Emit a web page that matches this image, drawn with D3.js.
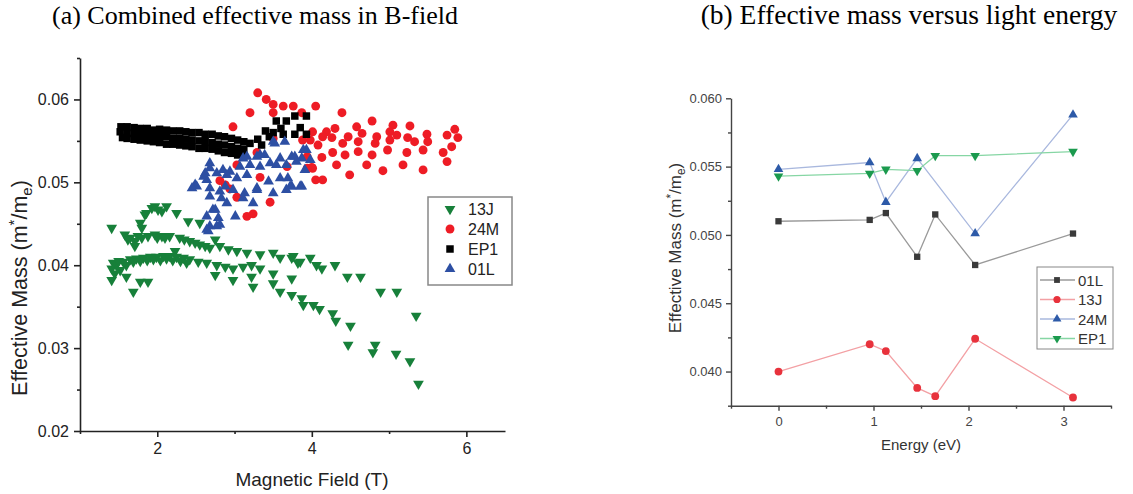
<!DOCTYPE html>
<html>
<head>
<meta charset="utf-8">
<script src="https://cdn.jsdelivr.net/npm/d3@7"></script>
<style>
  body { margin: 0; background: #fff; }
  text { font-family: 'Liberation Sans', Arial, sans-serif; }
</style>
</head>
<body>
<script>
// ---- (a) scatter data: [field (T), effective mass]
const field13J = [
  [1.41,0.0445],[1.58,0.0437],[1.71,0.0423],[1.78,0.0451],[1.84,0.0461],[1.93,0.0469],[2.01,0.0467],[2.12,0.0471],
  [2.25,0.0463],[2.40,0.0453],[2.55,0.0451],[2.75,0.0431],[1.80,0.0445],[1.86,0.0463],[1.97,0.0471],[2.06,0.0465],
  [1.75,0.0435],[1.65,0.0433],
  [1.80,0.0433],[1.88,0.0435],[1.97,0.0437],[2.06,0.0435],[2.16,0.0435],[2.29,0.0433],[2.42,0.0429],[2.55,0.0425],
  [2.68,0.0421],[2.81,0.0423],[2.92,0.0419],[3.03,0.0417],[3.16,0.0415],[3.33,0.0413],[3.50,0.0415],[3.59,0.0409],
  [3.74,0.0409],[3.85,0.0404],[3.98,0.0409],[4.06,0.0400],[1.71,0.0429],[2.23,0.0417],[1.62,0.0431],[2.00,0.0433],
  [2.10,0.0433],[2.35,0.0431],[2.49,0.0427],[2.62,0.0423],[3.82,0.0403],[3.76,0.0411],[4.13,0.0396],[4.30,0.0400],
  [4.46,0.0386],[4.63,0.0386],[4.89,0.0368],[5.10,0.0368],[5.35,0.0339],
  [1.41,0.0396],[1.47,0.0400],[1.56,0.0404],[1.65,0.0407],[1.73,0.0408],[1.82,0.0409],[1.91,0.0410],[1.99,0.0410],
  [2.08,0.0411],[2.16,0.0411],[2.25,0.0410],[2.34,0.0409],[2.42,0.0407],[2.53,0.0404],[2.64,0.0403],[2.77,0.0400],
  [2.88,0.0398],[2.98,0.0396],[3.11,0.0398],[3.22,0.0400],[1.43,0.0403],[1.52,0.0394],[1.45,0.0390],[1.50,0.0405],
  [1.60,0.0400],[1.69,0.0404],[1.78,0.0405],[1.87,0.0406],[1.95,0.0407],[2.04,0.0406],[2.12,0.0408],[2.20,0.0406],
  [2.30,0.0405],[2.38,0.0403],
  [1.41,0.0382],[1.60,0.0386],[1.69,0.0368],[1.78,0.0380],[1.88,0.0380],[2.75,0.0388],[2.98,0.0382],[3.24,0.0374],
  [3.22,0.0386],[3.50,0.0378],[3.59,0.0368],[3.74,0.0384],[3.74,0.0364],[3.87,0.0360],[3.89,0.0352],[4.02,0.0352],
  [4.10,0.0347],[4.27,0.0342],[4.31,0.0333],[4.50,0.0327],[4.47,0.0304],[4.82,0.0304],[4.79,0.0295],[5.09,0.0293],
  [5.27,0.0284],[5.38,0.0257],[3.50,0.0390],[3.33,0.0396]
];

const field24M = [
  [3.30,0.0608],[3.41,0.0600],[3.50,0.0594],[3.63,0.0592],[3.76,0.0592],[4.05,0.0592],[3.20,0.0584],[3.50,0.0584],
  [3.87,0.0584],[4.39,0.0584],[4.78,0.0574],[5.05,0.0569],[5.27,0.0568],[5.85,0.0564],
  [2.98,0.0567],[4.01,0.0561],[4.19,0.0561],[4.30,0.0565],[4.14,0.0555],[4.26,0.0554],[4.47,0.0555],[4.58,0.0567],
  [4.65,0.0559],[4.84,0.0555],[5.01,0.0561],[5.10,0.0557],[5.24,0.0554],[5.49,0.0558],[5.75,0.0557],[5.89,0.0554],
  [4.08,0.0545],[4.40,0.0547],[4.60,0.0549],[4.82,0.0547],[5.01,0.0551],[5.33,0.0549],[5.50,0.0549],[5.81,0.0543],
  [3.94,0.0531],[4.13,0.0530],[4.27,0.0536],[4.43,0.0533],[4.60,0.0537],[4.78,0.0533],[4.98,0.0539],[5.23,0.0536],
  [5.44,0.0539],[5.70,0.0536],
  [4.00,0.0518],[4.32,0.0521],[4.71,0.0521],[4.92,0.0514],[5.18,0.0521],[5.44,0.0515],[5.75,0.0525],[4.49,0.0509],
  [4.14,0.0503],[3.98,0.0551],[4.01,0.0517],[4.05,0.0503],[3.88,0.0551],[3.94,0.0517],[3.68,0.0519],[3.50,0.0553],
  [2.81,0.0502],[2.94,0.0492],[3.33,0.0506],[3.03,0.0521],[3.46,0.0476],[3.16,0.0459],[3.24,0.0462],[3.03,0.0482],
  [2.88,0.0497],[3.29,0.0536]
];

const fieldEP1 = [
  [1.53,0.0567],[1.61,0.0567],[1.70,0.0566],[1.78,0.0565],[1.87,0.0565],[1.95,0.0563],[2.03,0.0564],[2.12,0.0563],
  [2.20,0.0562],[2.29,0.0562],[2.37,0.0561],[2.45,0.0560],[2.54,0.0560],[2.62,0.0558],[2.71,0.0558],[2.79,0.0556],
  [2.87,0.0555],[2.96,0.0553],[3.04,0.0551],[3.12,0.0549],
  [1.52,0.0561],[1.61,0.0559],[1.70,0.0559],[1.78,0.0557],[1.87,0.0557],[1.95,0.0556],[2.03,0.0555],[2.12,0.0555],
  [2.20,0.0553],[2.29,0.0553],[2.37,0.0552],[2.45,0.0551],[2.54,0.0550],[2.62,0.0549],[2.71,0.0548],[2.79,0.0546],
  [2.87,0.0545],[2.96,0.0543],[3.04,0.0541],[3.12,0.0540],
  [1.55,0.0554],[1.61,0.0553],[1.70,0.0552],[1.78,0.0551],[1.87,0.0550],[1.95,0.0549],[2.03,0.0548],[2.12,0.0546],
  [2.20,0.0546],[2.29,0.0545],[2.37,0.0544],[2.45,0.0543],[2.54,0.0541],[2.62,0.0541],[2.71,0.0540],[2.79,0.0538],
  [2.87,0.0536],[2.96,0.0535],[3.04,0.0533],[3.12,0.0532],
  [3.20,0.0547],[3.30,0.0552],[3.35,0.0545],[3.45,0.0555],[3.54,0.0574],[3.67,0.0574],[3.78,0.0580],[3.93,0.0580],
  [3.78,0.0558],[3.93,0.0558],[3.63,0.0558],[3.50,0.0560],[3.40,0.0562],[3.60,0.0565],[3.85,0.0566]
];

const field01L = [
  [3.52,0.0547],[3.65,0.0549],[3.50,0.0549],[3.93,0.0539],[3.89,0.0539],[3.11,0.0529],[3.29,0.0531],[3.39,0.0533],
  [3.59,0.0529],[3.74,0.0531],[3.87,0.0529],[3.98,0.0527],[3.16,0.0531],[3.33,0.0533],[3.78,0.0531],
  [2.68,0.0523],[2.85,0.0515],[2.94,0.0513],[3.07,0.0519],[3.20,0.0521],[3.33,0.0519],[3.46,0.0523],[3.54,0.0521],
  [3.67,0.0521],[3.80,0.0525],[3.91,0.0515],
  [2.62,0.0511],[2.49,0.0497],[2.64,0.0503],[2.77,0.0511],[2.90,0.0509],[3.03,0.0505],[3.16,0.0509],[2.60,0.0507],
  [2.68,0.0517],
  [2.68,0.0493],[2.81,0.0489],[2.88,0.0495],[2.98,0.0491],[3.13,0.0487],[3.29,0.0493],[3.44,0.0501],[3.59,0.0505],
  [3.74,0.0495],[3.87,0.0495],[3.69,0.0505],[3.85,0.0495],[3.72,0.0495],
  [2.68,0.0483],[2.83,0.0481],[2.90,0.0475],[3.11,0.0481],[3.24,0.0475],[3.67,0.0491],[3.50,0.0487],[3.29,0.0491],
  [2.51,0.0495],[2.45,0.0493],
  [2.72,0.0467],[2.64,0.0459],[2.79,0.0457],[3.01,0.0459],[2.68,0.0447],[2.81,0.0449],[2.66,0.0441],[2.64,0.0443],
  [2.75,0.0467],[2.77,0.0447]
];

// ---- (b) line data
const energy   = [0, 0.96, 1.13, 1.46, 1.65, 2.07, 3.10];
const mass01L  = [0.0510, 0.0511, 0.0516, 0.0484, 0.0515, 0.0478, 0.0501];
const mass13J  = [0.0400, 0.0420, 0.0415, 0.0388, 0.0382, 0.0424, 0.0381];
const mass24M  = [0.0548, 0.0553, 0.0524, 0.0556, null, 0.0501, 0.0588];
const massEP1  = [0.0543, 0.0545, 0.0548, 0.0547, 0.0558, 0.0558, 0.0561];

const xTicksA = [2, 4, 6], xMinorA = [1, 3, 5];
const yTicksA = [0.02, 0.03, 0.04, 0.05, 0.06], yMinorA = [0.025, 0.035, 0.045, 0.055, 0.065];
const xTicksB = [0, 1, 2, 3], xMinorB = [-0.5, 0.5, 1.5, 2.5, 3.5];
const yTicksB = [0.040, 0.045, 0.050, 0.055, 0.060], yMinorB = [0.0375, 0.0425, 0.0475, 0.0525, 0.0575];

const svg = d3.select('body').append('svg').attr('width', 1133).attr('height', 494);

// titles
svg.append('text').attr('x', 255).attr('y', 24).attr('text-anchor', 'middle')
  .style('font-family', "'Liberation Serif', 'Times New Roman', serif").style('font-size', '26px')
  .text('(a) Combined effective mass in B-field');
svg.append('text').attr('x', 909).attr('y', 24).attr('text-anchor', 'middle')
  .style('font-family', "'Liberation Serif', 'Times New Roman', serif").style('font-size', '27.5px')
  .text('(b) Effective mass versus light energy');

// marker helper
function marker(sel, kind, size, fill) {
  const type = kind === 'circle' ? d3.symbolCircle : kind === 'square' ? d3.symbolSquare : d3.symbolTriangle;
  sel.append('path').attr('d', d3.symbol().type(type).size(size)())
    .attr('fill', fill)
    .attr('transform', kind === 'down' ? 'rotate(180)' : null);
}

function styleAxis(g, color, width, fontSize) {
  g.select('.domain').attr('stroke', color).attr('stroke-width', width);
  g.selectAll('.tick line').attr('stroke', color).attr('stroke-width', width);
  g.selectAll('.tick text').attr('fill', color).style('font-size', fontSize)
    .style('font-family', "'Liberation Sans', Arial, sans-serif");
}

// ================= (a) =================
const xA = d3.scaleLinear().domain([1, 6.5]).range([80, 505]);
const yA = d3.scaleLinear().domain([0.02, 0.065]).range([431, 58]);

const gxA = svg.append('g').attr('transform', 'translate(0,431)')
  .call(d3.axisBottom(xA).tickValues(xTicksA).tickSize(6).tickSizeOuter(0).tickPadding(6).tickFormat(d3.format('d')));
styleAxis(gxA, '#222', 1.6, '16px');
const gxAm = svg.append('g').attr('transform', 'translate(0,431)')
  .call(d3.axisBottom(xA).tickValues(xMinorA).tickSize(3).tickFormat(''));
gxAm.select('.domain').remove();
styleAxis(gxAm, '#222', 1.6, '16px');

const gyA = svg.append('g').attr('transform', 'translate(80,0)')
  .call(d3.axisLeft(yA).tickValues(yTicksA).tickSize(6).tickSizeOuter(0).tickPadding(5).tickFormat(d3.format('.2f')));
styleAxis(gyA, '#222', 1.6, '16px');
const gyAm = svg.append('g').attr('transform', 'translate(80,0)')
  .call(d3.axisLeft(yA).tickValues(yMinorA).tickSize(3).tickFormat(''));
gyAm.select('.domain').remove();
styleAxis(gyAm, '#222', 1.6, '16px');

svg.append('text').attr('x', 312).attr('y', 486).attr('text-anchor', 'middle')
  .attr('fill', '#222').style('font-size', '19px').text('Magnetic Field (T)');

function massLabel(x, y, size, color) {
  const t = svg.append('text').attr('transform', `translate(${x},${y}) rotate(-90)`)
    .attr('text-anchor', 'middle').attr('fill', color).style('font-size', size + 'px');
  t.append('tspan').text('Effective Mass (m');
  t.append('tspan').attr('dy', -size * 0.35).style('font-size', size * 0.7 + 'px').text('*');
  t.append('tspan').attr('dy', size * 0.35).text('/m');
  t.append('tspan').attr('dy', size * 0.25).style('font-size', size * 0.7 + 'px').text('e');
  t.append('tspan').attr('dy', -size * 0.25).text(')');
}
massLabel(27, 288, 21.5, '#222');

const seriesA = [
  { name: '13J', data: field13J, kind: 'down',   size: 50, fill: '#17803a' },
  { name: '24M', data: field24M, kind: 'circle', size: 62, fill: '#ee1c25' },
  { name: 'EP1', data: fieldEP1, kind: 'square', size: 56, fill: '#000000' },
  { name: '01L', data: field01L, kind: 'up',     size: 50, fill: '#2d4fa3' }
];

seriesA.forEach(s => {
  svg.append('g').selectAll('g').data(s.data).enter().append('g')
    .attr('transform', d => `translate(${xA(d[0])},${yA(d[1])})`)
    .each(function () { marker(d3.select(this), s.kind, s.size, s.fill); });
});

// legend (a)
const legA = svg.append('g').attr('transform', 'translate(428,197)');
legA.append('rect').attr('width', 84).attr('height', 88).attr('fill', '#fff')
  .attr('stroke', '#888').attr('stroke-width', 1.5);
seriesA.forEach((s, i) => {
  const row = legA.append('g').attr('transform', `translate(22,${12 + i * 20})`);
  marker(row, s.kind, s.size, s.fill);
  row.append('text').attr('x', 18).attr('y', 6).attr('fill', '#222').style('font-size', '16px').text(s.name);
});

// ================= (b) =================
const xB = d3.scaleLinear().domain([-0.5, 3.5]).range([731, 1111]);
const yB = d3.scaleLinear().domain([0.0375, 0.060]).range([405.7, 98.3]);

const gxB = svg.append('g').attr('transform', 'translate(0,405.7)')
  .call(d3.axisBottom(xB).tickValues(xTicksB).tickSize(5).tickSizeOuter(0).tickPadding(6).tickFormat(d3.format('d')));
styleAxis(gxB, '#444', 1.4, '13px');
const gxBm = svg.append('g').attr('transform', 'translate(0,405.7)')
  .call(d3.axisBottom(xB).tickValues(xMinorB).tickSize(3).tickFormat(''));
gxBm.select('.domain').remove();
styleAxis(gxBm, '#444', 1.4, '13px');

const gyB = svg.append('g').attr('transform', 'translate(731,0)')
  .call(d3.axisLeft(yB).tickValues(yTicksB).tickSize(5).tickSizeOuter(0).tickPadding(4).tickFormat(d3.format('.3f')));
styleAxis(gyB, '#444', 1.4, '13px');
const gyBm = svg.append('g').attr('transform', 'translate(731,0)')
  .call(d3.axisLeft(yB).tickValues(yMinorB).tickSize(3).tickFormat(''));
gyBm.select('.domain').remove();
styleAxis(gyBm, '#444', 1.4, '13px');

svg.append('text').attr('x', 921).attr('y', 450).attr('text-anchor', 'middle')
  .attr('fill', '#333').style('font-size', '15px').text('Energy (eV)');
massLabel(681, 248, 17, '#333');

const seriesB = [
  { name: '01L', values: mass01L, kind: 'square', size: 40, fill: '#3a3a3a', line: '#9a9a9a' },
  { name: '13J', values: mass13J, kind: 'circle', size: 48, fill: '#e8323c', line: '#f3a0a4' },
  { name: '24M', values: mass24M, kind: 'up',     size: 40, fill: '#2d5aa8', line: '#a9b8de' },
  { name: 'EP1', values: massEP1, kind: 'down',   size: 40, fill: '#1b9a4e', line: '#86d6a4' }
];

const lineB = d3.line().x(d => xB(d[0])).y(d => yB(d[1]));
seriesB.forEach(s => {
  const pts = energy.map((e, i) => [e, s.values[i]]).filter(d => d[1] != null);
  svg.append('path').datum(pts).attr('d', lineB).attr('fill', 'none')
    .attr('stroke', s.line).attr('stroke-width', 1.3);
  svg.append('g').selectAll('g').data(pts).enter().append('g')
    .attr('transform', d => `translate(${xB(d[0])},${yB(d[1])})`)
    .each(function () { marker(d3.select(this), s.kind, s.size, s.fill); });
});

// legend (b)
const legB = svg.append('g').attr('transform', 'translate(1037,267)');
legB.append('rect').attr('width', 76).attr('height', 82).attr('fill', '#fff')
  .attr('stroke', '#888').attr('stroke-width', 1);
seriesB.forEach((s, i) => {
  const row = legB.append('g').attr('transform', `translate(0,${13 + i * 19.5})`);
  row.append('line').attr('x1', 3).attr('x2', 38).attr('stroke', s.line).attr('stroke-width', 1.3);
  const m = row.append('g').attr('transform', 'translate(20,0)');
  marker(m, s.kind, s.size * 0.85, s.fill);
  row.append('text').attr('x', 41).attr('y', 5.5).attr('fill', '#333').style('font-size', '15px').text(s.name);
});
</script>
</body>
</html>
